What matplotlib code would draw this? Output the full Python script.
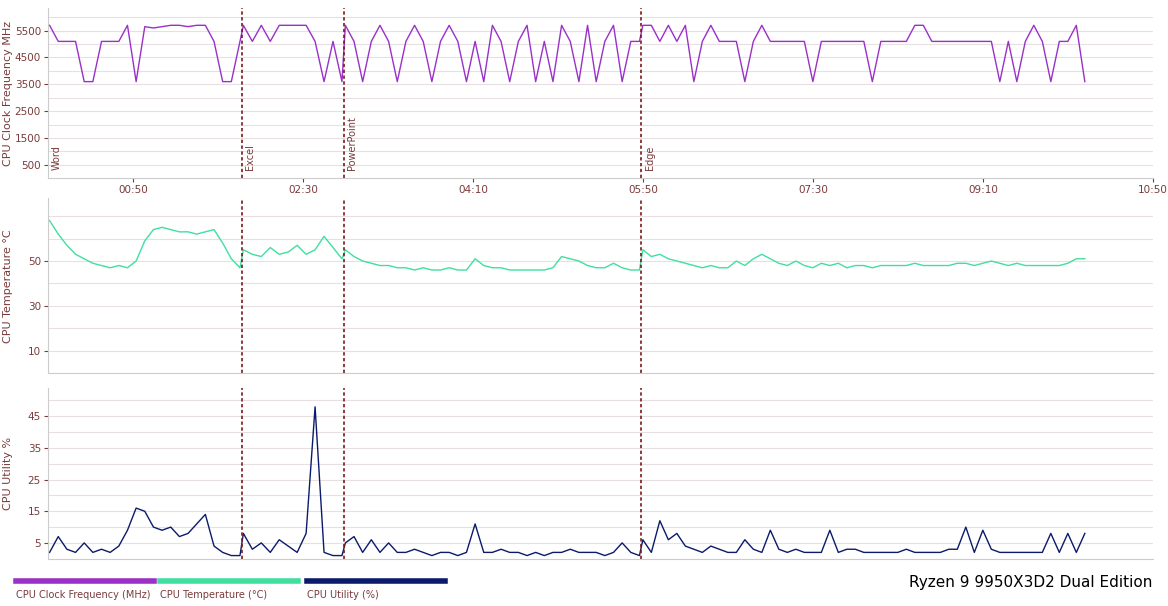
import numpy as np
import matplotlib.pyplot as plt

# app segments (seconds) and samples within each segment
bounds = [0, 114, 174, 349, 610]
event_names = ["Word", "Excel", "PowerPoint", "Edge"]

freq_segs = [
    [5700, 5100, 5100, 5100, 3600, 3600, 5100, 5100, 5100, 5700, 3600, 5650, 5600, 5650, 5700, 5700, 5650, 5700, 5700, 5100, 3600, 3600, 5100],
    [5700, 5100, 5700, 5100, 5700, 5700, 5700, 5700, 5100, 3600, 5100, 3600],
    [5700, 5100, 3600, 5100, 5700, 5100, 3600, 5100, 5700, 5100, 3600, 5100, 5700, 5100, 3600, 5100, 3600, 5700,
     5100, 3600, 5100, 5700, 3600, 5100, 3600, 5700, 5100, 3600, 5700, 3600, 5100, 5700, 3600, 5100, 5100],
    [5700, 5700, 5100, 5700, 5100, 5700, 3600, 5100, 5700, 5100, 5100, 5100, 3600, 5100, 5700, 5100, 5100, 5100,
     5100, 5100, 3600, 5100, 5100, 5100, 5100, 5100, 5100, 3600, 5100, 5100, 5100, 5100, 5700, 5700, 5100, 5100,
     5100, 5100, 5100, 5100, 5100, 5100, 3600, 5100, 3600, 5100, 5700, 5100, 3600, 5100, 5100, 5700, 3600],
]
temp_segs = [
    [68, 62, 57, 53, 51, 49, 48, 47, 48, 47, 50, 59, 64, 65, 64, 63, 63, 62, 63, 64, 58, 51, 47],
    [55, 53, 52, 56, 53, 54, 57, 53, 55, 61, 56, 51],
    [55, 52, 50, 49, 48, 48, 47, 47, 46, 47, 46, 46, 47, 46, 46, 51, 48, 47, 47, 46, 46, 46, 46, 46, 47,
     52, 51, 50, 48, 47, 47, 49, 47, 46, 46],
    [55, 52, 53, 51, 50, 49, 48, 47, 48, 47, 47, 50, 48, 51, 53, 51, 49, 48, 50, 48, 47, 49, 48, 49, 47, 48,
     48, 47, 48, 48, 48, 48, 49, 48, 48, 48, 48, 49, 49, 48, 49, 50, 49, 48, 49, 48, 48, 48, 48, 48, 49, 51, 51],
]
util_segs = [
    [2, 7, 3, 2, 5, 2, 3, 2, 4, 9, 16, 15, 10, 9, 10, 7, 8, 11, 14, 4, 2, 1, 1],
    [8, 3, 5, 2, 6, 4, 2, 8, 48, 2, 1, 1],
    [5, 7, 2, 6, 2, 5, 2, 2, 3, 2, 1, 2, 2, 1, 2, 11, 2, 2, 3, 2, 2, 1, 2, 1, 2, 2, 3, 2, 2, 2, 1, 2, 5, 2, 1],
    [6, 2, 12, 6, 8, 4, 3, 2, 4, 3, 2, 2, 6, 3, 2, 9, 3, 2, 3, 2, 2, 2, 9, 2, 3, 3, 2, 2, 2, 2, 2, 3,
     2, 2, 2, 2, 3, 3, 10, 2, 9, 3, 2, 2, 2, 2, 2, 2, 8, 2, 8, 2, 8],
]

xticks = [50, 150, 250, 350, 450, 550, 650]
xlabels = ["00:50", "02:30", "04:10", "05:50", "07:30", "09:10", "10:50"]

c_freq, c_temp, c_util = "#9b30c8", "#40dfa0", "#0b1a6a"
txt = "#7a3b3b"
grid = "#e8dfe3"


def series(segs):
    ts, ys = [], []
    for i, seg in enumerate(segs):
        end = bounds[i + 1] - (1 if i < len(segs) - 1 else 0)
        ts.extend(np.linspace(bounds[i] + 1, end, len(seg)))
        ys.extend(seg)
    return ts, ys


fig = plt.figure(figsize=(11.68, 6.06), dpi=100)
ax1 = fig.add_axes([0.041, 0.706, 0.946, 0.281])
ax2 = fig.add_axes([0.041, 0.384, 0.946, 0.289])
ax3 = fig.add_axes([0.041, 0.078, 0.946, 0.282])

setup = [
    (ax1, freq_segs, c_freq, (0, 6350), np.arange(500, 6000, 1000), np.arange(500, 6350, 500), "CPU Clock Frequency MHz"),
    (ax2, temp_segs, c_temp, (0, 78), [10, 30, 50], np.arange(10, 78, 10), "CPU Temperature °C"),
    (ax3, util_segs, c_util, (0, 54), [5, 15, 25, 35, 45], np.arange(5, 54, 5), "CPU Utility %"),
]
for ax, segs, col, lim, ticks, grids, lab in setup:
    t, y = series(segs)
    ax.plot(t, y, color=col, lw=1)
    ax.set_xlim(0, 650)
    ax.set_ylim(*lim)
    ax.set_yticks(ticks)
    for g in grids:
        ax.axhline(g, color=grid, lw=0.8, zorder=0)
    for e in bounds[:4]:
        ax.axvline(e, color="#7a1a1a", ls=(0, (2, 1.5)), lw=1.2)
    ax.set_ylabel(lab, color=txt, fontsize=8)
    ax.yaxis.set_label_coords(-0.032, 0.5)
    ax.tick_params(colors=txt, labelsize=7.5, length=3, pad=2)
    for s in ["top", "right"]:
        ax.spines[s].set_visible(False)
    ax.spines["left"].set_color("#cccccc")
    ax.spines["bottom"].set_color("#cccccc")
    ax.set_xticks(xticks)
    if ax is ax1:
        ax.set_xticklabels(xlabels)
    else:
        ax.tick_params(axis="x", length=0, labelbottom=False)

for e, n in zip(bounds[:4], event_names):
    ax1.text(e + 2, 300, n, rotation=90, color=txt, fontsize=7, va="bottom", ha="left")

# legend bars
legend = [(c_freq, "CPU Clock Frequency (MHz)", 16), (c_temp, "CPU Temperature (°C)", 160), (c_util, "CPU Utility (%)", 307)]
for col, lab, px in legend:
    x0 = px / 1168
    fig.add_artist(plt.Line2D([x0, x0 + 138 / 1168], [1 - 581 / 606] * 2, color=col, lw=4, transform=fig.transFigure))
    fig.text(x0, 1 - 595 / 606, lab, color=txt, fontsize=7, va="center")

fig.text(1152 / 1168, 1 - 583 / 606, "Ryzen 9 9950X3D2 Dual Edition", ha="right", va="center", fontsize=11, color="black")

fig.savefig("out.png", dpi=100)
